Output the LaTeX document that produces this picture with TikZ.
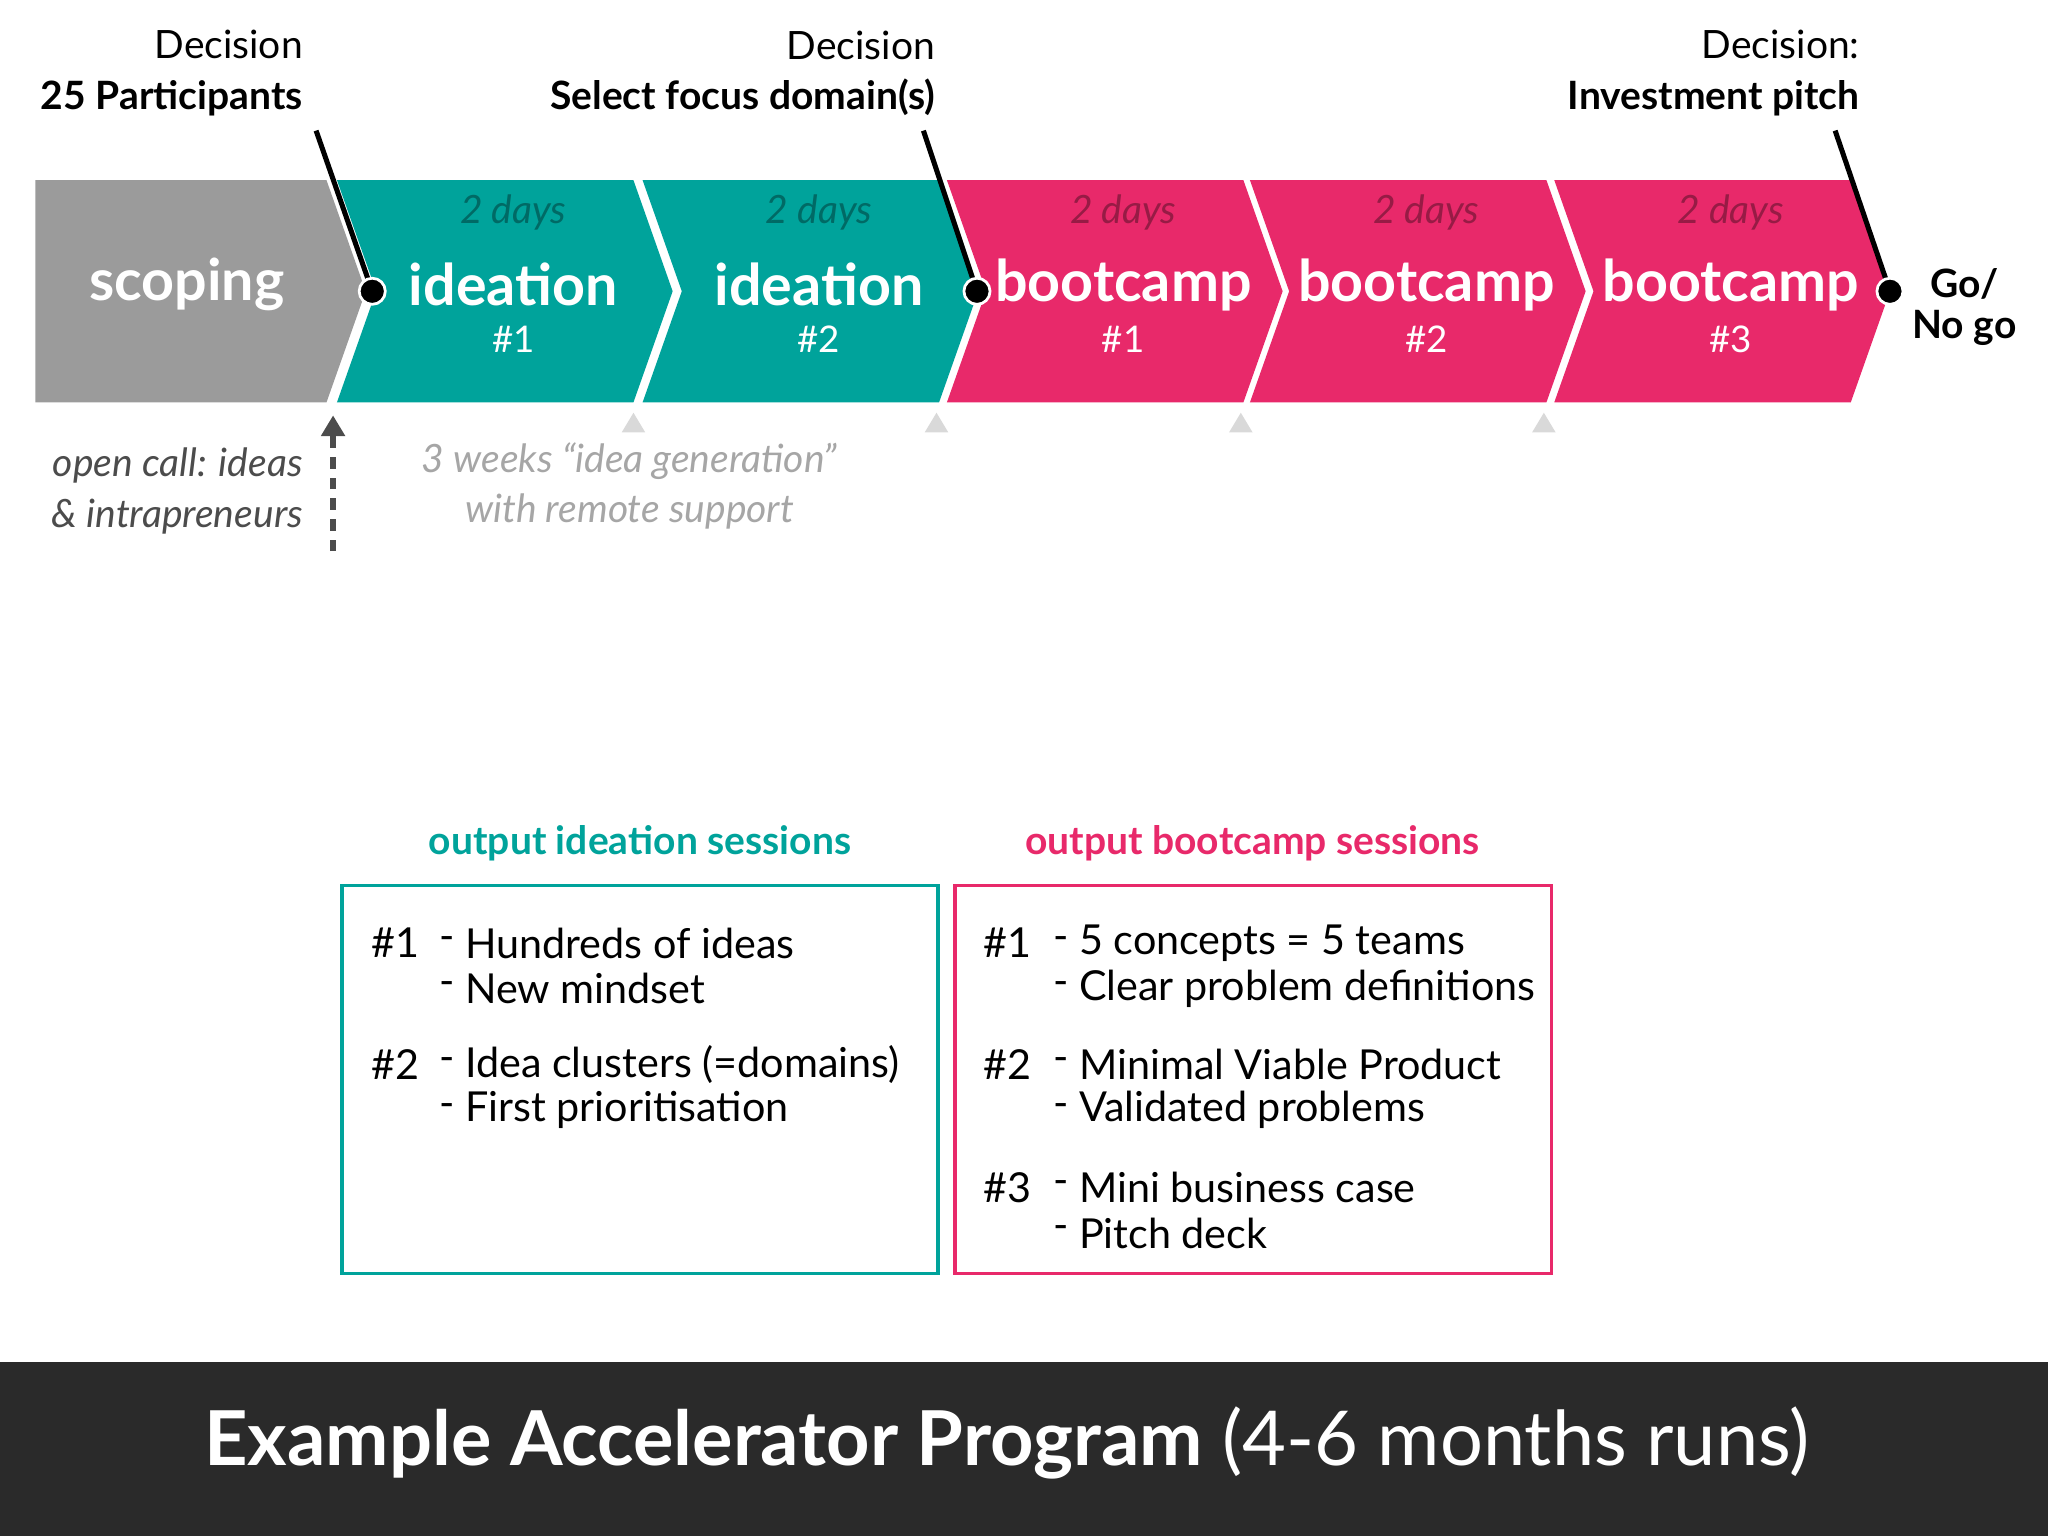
\documentclass[tikz,border=0pt]{standalone}
\usepackage{fontspec}
\setmainfont{Lato}
\usetikzlibrary{arrows.meta}
\definecolor{accteal}{HTML}{00A39B}
\definecolor{accpink}{HTML}{E8296A}
\definecolor{accgray}{HTML}{9B9B9B}
\definecolor{barback}{HTML}{2A2A2A}
\tikzset{
  phase/.style={text=white, font=\fontsize{25}{28}\selectfont\bfseries},
  days/.style={font=\fontsize{17}{19}\selectfont\itshape},
  num/.style={text=white, font=\fontsize{16}{18}\selectfont},
  decision/.style={align=right, anchor=east, font=\fontsize{17}{22}\selectfont},
  note/.style={align=center, font=\fontsize{17}{22}\selectfont\itshape},
  item/.style={anchor=west, font=\fontsize{18}{20}\selectfont},
  head/.style={font=\fontsize{17}{20}\selectfont\bfseries}
}
\begin{document}
\begin{tikzpicture}[x=0.02cm, y=-0.02cm]
  \useasboundingbox (0,0) rectangle (1568,1176);
  % timeline
  \fill[accgray] (27,138) -- (250,138) -- (280,223) -- (250,308) -- (27,308) -- cycle;
  \node[phase] (scoping) at (143,218) {scoping};
  \foreach \x/\c/\t/\n [count=\i] in {258/accteal/ideation/1, 492/accteal/ideation/2,
      725/accpink/bootcamp/1, 957/accpink/bootcamp/2, 1190/accpink/bootcamp/3} {
    \fill[\c] (\x,138) -- (\x+227,138) -- (\x+257,223) -- (\x+227,308) -- (\x,308) -- (\x+30,223) -- cycle;
    \node[days, text=\c!65!black] (days\i) at (\x+135,163) {2 days};
    \node[phase] (phase\i) at (\x+135,218) {\t};
    \node[num] (num\i) at (\x+135,260) {\#\n};
  }
  % markers
  \foreach \x in {485,717,950,1182}
    \fill[black!15] (\x,316) -- (\x+9,331) -- (\x-9,331) -- cycle;
  \coordinate (dot1) at (285,223);
  \coordinate (dot2) at (748,223);
  \coordinate (dot3) at (1447,223);
  \node[decision] (dec1) at (238,56) {Decision\\\textbf{25 Participants}};
  \node[decision] (dec2) at (722,56) {Decision\\\textbf{Select focus domain(s)}};
  \node[decision] (dec3) at (1430,56) {Decision:\\\textbf{Investment pitch}};
  \draw[line width=2.2pt] (242,100) -- (dot1);
  \draw[line width=2.2pt] (707,100) -- (dot2);
  \draw[line width=2.2pt] (1405,100) -- (dot3);
  \foreach \d in {dot1,dot2,dot3}
    \fill[black, draw=white, line width=1.2pt] (\d) circle (10);
  \node[font=\fontsize{17}{18}\selectfont\bfseries, align=center] (gonogo) at (1504,235) {Go/\\No go};
  \node[note, text=black!70, align=right, anchor=east] (opencall) at (238,376) {open call: ideas\\\& intrapreneurs};
  \coordinate (callend) at (255,422);
  \coordinate (calltip) at (255,318);
  \draw[black!70, line width=2.5pt, dash pattern=on 5pt off 4pt, -{Triangle[length=9pt,width=10pt]}] (callend) -- (calltip);
  \node[note, text=black!35] (weeks) at (482,372) {3 weeks “idea generation”\\with remote support};
  % outputs
  \node[head, text=accteal] (headideation) at (490,646) {output ideation sessions};
  \node[head, text=accpink] (headbootcamp) at (959,646) {output bootcamp sessions};
  \draw[accteal, line width=1.5pt] (262,678) rectangle (718,975);
  \draw[accpink, line width=1.5pt] (731,678) rectangle (1188,975);
  \foreach \y/\k/\t in {722/\#1/Hundreds of ideas, 757//New mindset/attitude,
      815/\#2/Idea clusters (=domains), 850//First prioritisation} {
    \node[item] at (278,\y) {\k};
    \node[item] at (330,\y) {-};
    \node[item] at (350,\y) {\t};
  }
  \foreach \y/\k/\t in {722/\#1/5 concepts = 5 teams, 757//Clear problem definitions,
      815/\#2/Minimal Viable Product, 850//Validated problems,
      909/\#3/Mini business case, 944//Pitch deck} {
    \node[item] at (747,\y) {\k};
    \node[item] at (800,\y) {-};
    \node[item] at (820,\y) {\t};
  }
  % title bar
  \fill[barback] (0,1043) rectangle (1568,1176);
  \node[text=white, font=\fontsize{33}{36}\selectfont] (title) at (771,1105)
    {\textbf{Example Accelerator Program} (4-6 months runs)};
\end{tikzpicture}
\end{document}
